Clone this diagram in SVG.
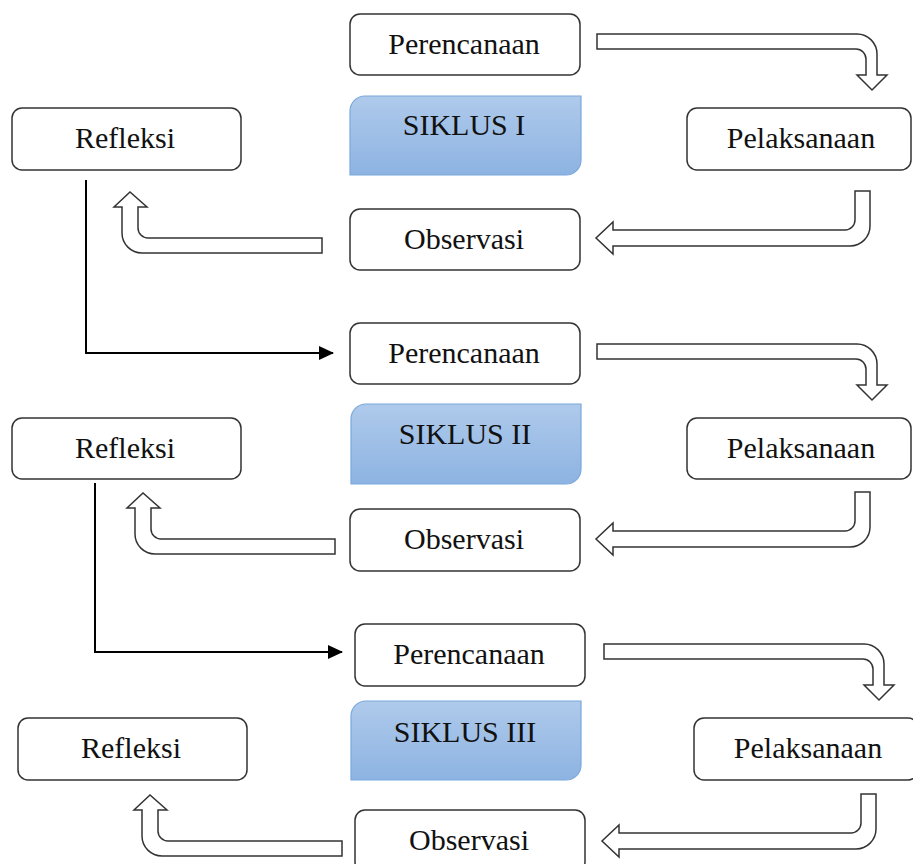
<svg xmlns="http://www.w3.org/2000/svg" width="913" height="864" viewBox="0 0 913 864">
<style>
.box{fill:#fff;stroke:#333;stroke-width:1.5}
.lbl{font-family:"Liberation Serif","Times New Roman",serif;font-size:30px;fill:#111;text-anchor:middle}
.sik{fill:url(#g);stroke:#7aa8dc;stroke-width:1.2}
.bent{fill:#fff;stroke:#333;stroke-width:1.5;stroke-linejoin:miter}
.ln{fill:none;stroke:#000;stroke-width:2}
</style>
<defs>
<linearGradient id="g" x1="0" y1="0" x2="0" y2="1">
<stop offset="0" stop-color="#afcaeb"/>
<stop offset="1" stop-color="#8db3e2"/>
</linearGradient>
<marker id="ah" markerWidth="15" markerHeight="14" viewBox="0 0 15 14" refX="14" refY="7" orient="auto" markerUnits="userSpaceOnUse">
<path d="M0,0 L15,7 L0,14 Z" fill="#000"/>
</marker>
<path id="down" class="bent" d="M597,34 H857 A20,20 0 0 1 877,54 V75 H887 L872,90 L857,75 H866 V59 A10,10 0 0 0 856,49 H597 Z"/>
<path id="left" class="bent" d="M855,191 H870 V226 A20,20 0 0 1 850,246 H613 V254 L596,238 L613,222 V230 H845 A10,10 0 0 0 855,220 Z"/>
<path id="up" class="bent" d="M322,238 H148 A10,10 0 0 1 138,228 V207 H147 L130,192 L114,207 H122 V233 A20,20 0 0 0 142,253 H322 Z"/>
</defs>
<rect width="913" height="864" fill="#fff"/>

<g id="connectors">
<use href="#down"/>
<use href="#left"/>
<use href="#up"/>
<use href="#down" transform="translate(0,310)"/>
<use href="#left" transform="translate(0,301)"/>
<use href="#up" transform="translate(13,301)"/>
<use href="#down" transform="translate(7,610)"/>
<use href="#left" transform="translate(6,603)"/>
<use href="#up" transform="translate(20,603)"/>
<path class="ln" d="M86,180 V353 H333" marker-end="url(#ah)"/>
<path class="ln" d="M95,483 V652 H342" marker-end="url(#ah)"/>
</g>

<g id="perencanaan1"><rect class="box" x="350" y="14" width="230" height="61" rx="10"/><text class="lbl" x="464" y="54">Perencanaan</text></g>
<g id="siklus1"><path class="sik" d="M365,96 H581 V160 A15,15 0 0 1 566,175 H350 V111 A15,15 0 0 1 365,96 Z"/><text class="lbl" x="464" y="135">SIKLUS I</text></g>
<g id="refleksi1"><rect class="box" x="12" y="108" width="229" height="62" rx="10"/><text class="lbl" x="125" y="148">Refleksi</text></g>
<g id="pelaksanaan1"><rect class="box" x="687" y="108" width="224" height="62" rx="10"/><text class="lbl" x="801" y="148">Pelaksanaan</text></g>
<g id="observasi1"><rect class="box" x="350" y="209" width="230" height="61" rx="10"/><text class="lbl" x="464" y="249">Observasi</text></g>

<g id="perencanaan2"><rect class="box" x="350" y="323" width="230" height="61" rx="10"/><text class="lbl" x="464" y="363">Perencanaan</text></g>
<g id="siklus2"><path class="sik" d="M366,404 H581 V469 A15,15 0 0 1 566,484 H351 V419 A15,15 0 0 1 366,404 Z"/><text class="lbl" x="465" y="444">SIKLUS II</text></g>
<g id="refleksi2"><rect class="box" x="12" y="418" width="229" height="61" rx="10"/><text class="lbl" x="125" y="458">Refleksi</text></g>
<g id="pelaksanaan2"><rect class="box" x="687" y="418" width="224" height="61" rx="10"/><text class="lbl" x="801" y="458">Pelaksanaan</text></g>
<g id="observasi2"><rect class="box" x="350" y="509" width="230" height="62" rx="10"/><text class="lbl" x="464" y="549">Observasi</text></g>

<g id="perencanaan3"><rect class="box" x="355" y="624" width="230" height="62" rx="10"/><text class="lbl" x="469" y="664">Perencanaan</text></g>
<g id="siklus3"><path class="sik" d="M366,701 H581 V765 A15,15 0 0 1 566,780 H351 V716 A15,15 0 0 1 366,701 Z"/><text class="lbl" x="465" y="742">SIKLUS III</text></g>
<g id="refleksi3"><rect class="box" x="18" y="718" width="229" height="62" rx="10"/><text class="lbl" x="131" y="758">Refleksi</text></g>
<g id="pelaksanaan3"><rect class="box" x="694" y="718" width="224" height="62" rx="10"/><text class="lbl" x="808" y="758">Pelaksanaan</text></g>
<g id="observasi3"><rect class="box" x="355" y="810" width="230" height="62" rx="10"/><text class="lbl" x="469" y="850">Observasi</text></g>
</svg>
